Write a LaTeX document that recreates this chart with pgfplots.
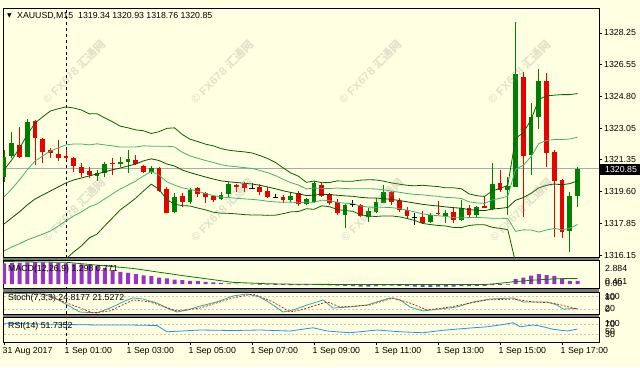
\documentclass[border=0pt]{standalone}
\usepackage{pgfplots}
\pgfplotsset{compat=1.18}
\usepackage{pgfplotstable}
\usepackage{fontspec}
\setmainfont{Liberation Sans}
\newfontfamily\symfont{DejaVu Sans}
\newfontfamily\cjk{Noto Sans CJK SC}
\definecolor{bg}{RGB}{255,255,226}
\definecolor{cgreen}{RGB}{0,128,0}
\definecolor{cred}{RGB}{235,0,0}
\definecolor{bbdark}{RGB}{0,100,0}
\definecolor{bblight}{RGB}{60,179,113}
\definecolor{macdp}{RGB}{153,50,204}
\definecolor{stochm}{RGB}{32,178,170}
\definecolor{rsib}{RGB}{30,144,255}
\definecolor{lvl}{RGB}{205,195,175}
\definecolor{sepc}{RGB}{120,120,120}
\definecolor{pline}{RGB}{170,170,170}
\definecolor{wm}{RGB}{150,150,140}
\newcommand\mtf{\fontsize{8.8}{10}\selectfont}
\newcommand\wmark[2]{\node[rotate=45, text=wm, opacity=0.28, inner sep=0pt] at (#1,#2) {\fontsize{11.5}{12}\selectfont\bfseries \textcopyright\ FX678 {\cjk 汇通网}};}

% i O H L C
\pgfplotstableread{
i O H L C
-8 1320.40 1321.88 1320.13 1321.49
-7 1321.55 1322.86 1321.44 1322.26
-5 1321.49 1323.56 1321.49 1323.40
4 1320.46 1320.78 1320.19 1320.62
5 1320.62 1321.22 1320.40 1321.11
7 1321.11 1321.49 1320.95 1321.22
8 1321.22 1321.88 1320.62 1321.38
11 1320.68 1321.00 1320.57 1320.89
14 1318.50 1319.53 1318.44 1319.31
16 1319.04 1319.80 1318.93 1319.69
20 1319.20 1319.59 1319.15 1319.42
21 1319.48 1320.13 1319.31 1320.02
29 1319.15 1319.53 1319.04 1319.37
31 1318.93 1319.26 1318.88 1319.20
32 1319.04 1320.19 1318.99 1320.08
36 1318.33 1318.93 1317.62 1318.88
39 1318.22 1318.71 1317.95 1318.55
40 1318.50 1319.26 1318.44 1319.04
41 1318.99 1319.97 1318.99 1319.59
47 1317.95 1318.44 1317.90 1318.33
49 1318.28 1318.60 1317.90 1318.44
51 1318.06 1319.15 1318.01 1318.71
53 1318.33 1318.82 1318.22 1318.77
55 1318.66 1321.17 1318.60 1320.02
57 1319.69 1320.40 1318.33 1319.91
58 1319.86 1328.85 1319.86 1326.02
60 1321.60 1324.44 1320.51 1323.67
61 1323.67 1326.29 1323.02 1325.64
65 1317.46 1319.59 1316.32 1319.37
66 1319.34 1320.93 1318.76 1320.85
}\greentab

\pgfplotstableread{
i O H L C
-6 1322.15 1323.13 1321.44 1321.49
-4 1323.46 1323.51 1321.06 1322.53
-3 1322.47 1322.53 1321.17 1321.77
-2 1321.88 1321.98 1321.44 1321.71
-1 1321.66 1322.42 1321.28 1321.44
0 1321.55 1321.88 1321.33 1321.44
1 1321.44 1321.49 1320.68 1321.00
2 1320.95 1321.17 1320.40 1320.62
3 1320.73 1320.95 1320.35 1320.51
6 1321.17 1321.44 1320.51 1321.11
9 1321.33 1321.60 1321.06 1321.11
10 1321.00 1321.06 1320.62 1320.68
12 1320.89 1320.95 1319.59 1319.64
13 1319.75 1319.86 1318.44 1318.44
15 1319.37 1319.53 1318.77 1319.04
17 1319.80 1319.86 1319.31 1319.48
18 1319.53 1319.59 1318.99 1319.31
19 1319.37 1319.42 1319.04 1319.15
22 1319.97 1320.02 1319.59 1319.86
23 1320.02 1320.13 1319.59 1319.80
25 1319.86 1320.02 1319.42 1319.59
26 1319.64 1319.86 1319.26 1319.31
28 1319.31 1319.42 1318.99 1319.15
30 1319.53 1319.64 1318.82 1318.93
33 1319.97 1320.08 1319.31 1319.37
34 1319.48 1319.53 1318.88 1318.99
35 1319.04 1319.20 1318.33 1318.44
38 1318.88 1318.93 1318.22 1318.28
42 1319.59 1319.64 1318.88 1319.04
43 1319.10 1319.26 1318.50 1318.60
44 1318.60 1318.77 1318.17 1318.28
46 1318.22 1318.55 1317.85 1317.90
48 1318.44 1319.10 1318.33 1318.39
50 1318.50 1318.77 1317.90 1318.06
52 1318.71 1318.88 1318.22 1318.33
54 1318.82 1319.31 1318.71 1318.71
56 1320.08 1320.78 1319.59 1319.69
59 1325.85 1326.13 1318.22 1321.55
62 1325.64 1326.07 1320.95 1321.71
63 1321.77 1321.88 1317.13 1320.19
64 1320.24 1320.29 1317.08 1317.41
}\redtab

\pgfplotstableread{
i O H L C
24 1319.80 1320.08 1319.75 1319.80
27 1319.31 1319.48 1319.26 1319.31
37 1318.93 1319.15 1318.77 1318.93
45 1318.17 1318.44 1317.79 1318.17
}\dojitab

% Bollinger bands: i upper2 upper1 middle lower1 lower2
\pgfplotstableread{
i u2 u1 m l1 l2
-8 1320.78 1319.31 1317.84 1316.37 1314.90
-7 1321.33 1319.75 1318.17 1316.59 1315.01
-6 1321.98 1320.24 1318.50 1316.76 1315.02
-5 1322.70 1320.79 1318.88 1316.97 1315.06
-4 1323.34 1321.27 1319.20 1317.13 1315.06
-3 1323.68 1321.55 1319.42 1317.29 1315.16
-2 1324.00 1321.82 1319.64 1317.46 1315.28
-1 1324.12 1321.99 1319.86 1317.73 1315.60
0 1324.22 1322.15 1320.08 1318.01 1315.94
1 1324.16 1322.20 1320.24 1318.28 1316.32
2 1324.05 1322.20 1320.35 1318.50 1316.65
3 1323.84 1322.15 1320.46 1318.77 1317.08
4 1323.85 1322.21 1320.57 1318.93 1317.29
5 1323.62 1322.15 1320.68 1319.21 1317.74
6 1323.41 1322.10 1320.79 1319.48 1318.17
7 1323.17 1322.03 1320.89 1319.75 1318.61
8 1323.08 1322.04 1321.00 1319.96 1318.92
9 1322.97 1322.04 1321.11 1320.18 1319.25
10 1322.92 1322.10 1321.28 1320.46 1319.64
11 1322.77 1322.08 1321.39 1320.70 1320.01
12 1322.87 1322.08 1321.30 1320.51 1319.72
13 1323.05 1322.08 1321.11 1320.14 1319.17
14 1323.08 1322.04 1321.00 1319.96 1318.92
15 1322.72 1321.75 1320.78 1319.81 1318.84
16 1322.46 1321.55 1320.64 1319.73 1318.82
17 1322.33 1321.42 1320.52 1319.62 1318.71
18 1322.19 1321.30 1320.40 1319.50 1318.61
19 1322.10 1321.19 1320.29 1319.39 1318.48
20 1321.95 1321.07 1320.19 1319.31 1318.43
21 1321.86 1321.00 1320.14 1319.28 1318.42
22 1321.81 1320.96 1320.10 1319.24 1318.39
23 1321.77 1320.91 1320.06 1319.21 1318.35
24 1321.71 1320.87 1320.02 1319.18 1318.33
25 1321.57 1320.76 1319.95 1319.14 1318.33
26 1321.41 1320.64 1319.86 1319.08 1318.31
27 1321.20 1320.48 1319.76 1319.04 1318.32
28 1320.90 1320.28 1319.65 1319.02 1318.40
29 1320.62 1320.09 1319.56 1319.03 1318.50
30 1320.44 1319.96 1319.48 1319.00 1318.52
31 1320.11 1319.75 1319.39 1319.03 1318.67
32 1320.18 1319.80 1319.41 1319.02 1318.64
33 1320.09 1319.78 1319.46 1319.14 1318.83
34 1320.10 1319.77 1319.44 1319.11 1318.78
35 1320.19 1319.80 1319.41 1319.02 1318.63
36 1320.17 1319.77 1319.37 1318.97 1318.57
37 1320.17 1319.76 1319.35 1318.94 1318.53
38 1320.23 1319.76 1319.29 1318.82 1318.35
39 1320.25 1319.76 1319.26 1318.76 1318.27
40 1320.24 1319.75 1319.25 1318.75 1318.25
41 1320.17 1319.70 1319.22 1318.75 1318.28
42 1320.08 1319.63 1319.18 1318.73 1318.28
43 1320.01 1319.57 1319.12 1318.68 1318.23
44 1319.95 1319.50 1319.05 1318.59 1318.14
45 1319.92 1319.45 1318.98 1318.50 1318.03
46 1319.95 1319.43 1318.91 1318.39 1317.87
47 1319.91 1319.38 1318.86 1318.33 1317.81
48 1319.88 1319.35 1318.82 1318.29 1317.76
49 1319.81 1319.29 1318.77 1318.25 1317.73
50 1319.81 1319.27 1318.73 1318.19 1317.65
51 1319.76 1319.23 1318.70 1318.17 1317.64
52 1319.48 1319.05 1318.62 1318.19 1317.76
53 1319.38 1318.99 1318.59 1318.19 1317.80
54 1319.34 1318.96 1318.57 1318.18 1317.80
55 1319.64 1319.15 1318.65 1318.15 1317.66
56 1319.78 1319.24 1318.69 1318.15 1317.60
57 1319.95 1319.35 1318.74 1318.14 1317.53
58 1322.51 1320.82 1319.13 1317.44 1315.75
59 1322.81 1321.04 1319.28 1317.52 1315.75
60 1323.52 1321.51 1319.51 1317.51 1315.50
61 1324.63 1322.22 1319.81 1317.40 1314.99
62 1324.82 1322.39 1319.95 1317.51 1315.08
63 1324.86 1322.44 1320.02 1317.60 1315.18
64 1324.89 1322.44 1319.98 1317.52 1315.07
65 1324.89 1322.47 1320.04 1317.61 1315.19
66 1324.95 1322.57 1320.19 1317.81 1315.43
}\bbtab

\pgfplotstableread{
i h
-8 3.70
-7 3.75
-6 3.80
-5 3.90
-4 3.95
-3 3.90
-2 3.85
-1 3.80
0 3.72
1 3.65
2 3.55
3 3.40
4 3.20
5 2.90
6 2.50
7 2.20
8 2.00
9 1.80
10 1.55
11 1.40
12 1.15
13 1.00
14 0.80
15 0.70
16 0.55
17 0.50
18 0.40
19 0.30
20 0.20
21 0.10
22 0.05
23 0.02
24 -0.05
25 -0.10
26 -0.12
27 -0.15
28 -0.15
29 -0.18
30 -0.20
31 -0.20
32 -0.15
33 -0.20
34 -0.25
35 -0.30
36 -0.35
37 -0.40
38 -0.45
39 -0.45
40 -0.40
41 -0.30
42 -0.30
43 -0.35
44 -0.40
45 -0.45
46 -0.50
47 -0.50
48 -0.45
49 -0.45
50 -0.45
51 -0.40
52 -0.40
53 -0.35
54 -0.35
55 -0.20
56 -0.15
57 -0.10
58 0.90
59 1.15
60 1.50
61 1.80
62 1.60
63 1.45
64 1.00
65 0.55
66 0.55
}\macdtab

\pgfplotstableread{
i s
-8 4.05
0.13 3.90
8.65 2.80
15.1 1.50
21.55 0.30
25.9 0.05
30 -0.05
40 -0.10
54 -0.10
55.4 0.05
57.7 0.40
60.3 0.70
63.4 0.95
66 1.00
}\sigtab

\pgfplotstableread{
i k
-8 95
-2.3 90
1.8 9
4.0 5
5.7 27
7.9 64
8.65 73
9.94 68
11.74 50
13.03 27
14.32 9
15.61 18
17.29 36
19.48 55
21.55 82
23.35 91
25.03 77
26.71 41
28.0 9
29.29 18
31.10 41
32.39 55
33.16 64
34.45 27
36.65 32
38.84 41
40.13 55
41.81 73
43.10 64
44.39 32
46.06 14
48.26 23
50.45 32
52.52 55
54.71 68
57.68 73
58.97 55
62.06 55
63.35 41
64.13 23
66 25
}\stochk

\pgfplotstableread{
i d
-8 95
-3.35 95
0.13 50
3.48 5
5.68 14
8.65 64
10.84 55
14.32 14
17.29 27
21.55 73
24.13 91
26.71 55
28.9 9
30.19 18
33.68 55
35.35 32
39.23 41
42.19 73
44.39 50
46.58 18
49.55 32
54.32 64
57.68 68
60.26 55
62.84 50
66 22
}\stochd

\pgfplotstableread{
i r
-8 75
0.13 70
4.39 68
8.26 68
11.74 66
13.03 41
17.29 48
21.55 46
25.03 48
28.9 44
31.87 57
33.68 44
36.65 37
40.13 48
43.10 41
46.06 37
48.65 47
51.74 55
54.32 61
56.0 68
57.68 77
58.58 61
60.26 68
61.16 64
62.84 51
64.65 44
66 52
}\rsitab

\pgfplotsset{
  panel/.style={scale only axis, width=596bp, xmin=-8.13, xmax=68.77,
    axis line style={black, line width=0.7bp}, xtick=\empty, ytick=\empty,
    clip=true, axis background/.style={fill=bg}},
  wick/.style={draw=none, mark=none, forget plot,
    error bars/.cd, y dir=plus, y explicit, error mark=none,
    error bar style={draw=#1, solid, line width=0.9bp}},
  body/.style={draw=none, mark=none, forget plot,
    error bars/.cd, y dir=plus, y explicit, error mark=none,
    error bar style={draw=#1, solid, line width=4.8bp}},
}

\begin{document}
\begin{tikzpicture}[x=1bp,y=1bp]
\fill[bg] (0,0) rectangle (640,-367);
% separators
\fill[sepc] (3,-257) rectangle (599,-260);
\fill[sepc] (3,-288) rectangle (599,-292);
\fill[sepc] (3,-314) rectangle (599,-317);

% ---------------- main price panel
\begin{axis}[panel, at={(3bp,-8bp)}, anchor=north west, height=249bp,
  ymin=1316.04, ymax=1329.61,
  ytick={1316.15,1317.85,1319.60,1321.35,1323.05,1324.80,1326.55,1328.25},
  yticklabels={1316.15,1317.85,1319.60,1321.35,1323.05,1324.80,1326.55,1328.25},
  ytick pos=right, yticklabel pos=right, tick align=outside, major tick length=3bp,
  tick style={black, line width=0.6bp},
  yticklabel style={font=\mtf, anchor=west, inner sep=0pt, xshift=2bp}]
\addplot[pline, line width=0.6bp, forget plot] coordinates {(-9,1320.85) (70,1320.85)};
\addplot[black, dashed, line width=0.7bp, forget plot] coordinates {(0,1316) (0,1330)};
% candles
\addplot[wick=cgreen] table[x=i, y=L, y error expr=\thisrow{H}-\thisrow{L}] {\greentab};
\addplot[body=cgreen] table[x=i, y=O, y error expr=\thisrow{C}-\thisrow{O}] {\greentab};
\addplot[wick=cred] table[x=i, y=L, y error expr=\thisrow{H}-\thisrow{L}] {\redtab};
\addplot[body=cred] table[x=i, y=C, y error expr=\thisrow{O}-\thisrow{C}] {\redtab};
\addplot[wick=black] table[x=i, y=L, y error expr=\thisrow{H}-\thisrow{L}] {\dojitab};
\addplot[only marks, mark=-, mark size=2.6bp, black, mark options={line width=0.9bp}] table[x=i, y=O] {\dojitab};
% bollinger
\addplot[bbdark, line width=0.8bp] table[x=i, y=u2] {\bbtab};
\addplot[bblight, line width=0.8bp] table[x=i, y=u1] {\bbtab};
\addplot[bbdark!80!black, line width=0.8bp] table[x=i, y=m] {\bbtab};
\addplot[bblight, line width=0.8bp] table[x=i, y=l1] {\bbtab};
\addplot[bbdark, line width=0.8bp] table[x=i, y=l2] {\bbtab};
\end{axis}

% ---------------- MACD
\begin{axis}[panel, at={(3bp,-260bp)}, anchor=north west, height=28bp,
  ymin=-0.72, ymax=4.32]
\addplot[black, dashed, line width=0.7bp, forget plot] coordinates {(0,-1) (0,5)};
\addplot[ybar, bar width=4bp, fill=macdp, draw=none] table[x=i, y=h] {\macdtab};
\addplot[cgreen, line width=0.8bp] table[x=i, y=s] {\sigtab};
\end{axis}

% ---------------- Stochastic
\begin{axis}[panel, at={(3bp,-292bp)}, anchor=north west, height=22bp,
  ymin=0, ymax=100]
\addplot[lvl, dash pattern=on 2bp off 2bp, line width=0.6bp] coordinates {(-9,80) (70,80)};
\addplot[lvl, dash pattern=on 2bp off 2bp, line width=0.6bp] coordinates {(-9,20) (70,20)};
\addplot[black, dashed, line width=0.7bp, forget plot] coordinates {(0,-1) (0,101)};
\addplot[stochm, line width=0.8bp] table[x=i, y=k] {\stochk};
\addplot[cred, dash pattern=on 2bp off 1.5bp, line width=0.7bp] table[x=i, y=d] {\stochd};
\end{axis}

% ---------------- RSI
\begin{axis}[panel, at={(3bp,-317bp)}, anchor=north west, height=25bp,
  ymin=0, ymax=100,
  xtick={-8,0,8,16,24,32,40,48,56,64},
  xticklabels={31 Aug 2017,1 Sep 01:00,1 Sep 03:00,1 Sep 05:00,1 Sep 07:00,1 Sep 09:00,1 Sep 11:00,1 Sep 13:00,1 Sep 15:00,1 Sep 17:00},
  xtick pos=bottom, tick align=outside, major tick length=3bp,
  tick style={black, line width=0.6bp},
  xticklabel style={font=\mtf, anchor=north west, inner sep=0pt, xshift=-1.5bp, yshift=-2bp}]
\addplot[lvl, dash pattern=on 2bp off 2bp, line width=0.6bp] coordinates {(-9,70) (70,70)};
\addplot[lvl, dash pattern=on 2bp off 2bp, line width=0.6bp] coordinates {(-9,30) (70,30)};
\addplot[black, dashed, line width=0.7bp, forget plot] coordinates {(0,-1) (0,101)};
\addplot[rsib, line width=0.8bp] table[x=i, y=r] {\rsitab};
\end{axis}

% texts
\node[anchor=west, inner sep=0pt] at (7,-16) {\fontsize{6}{6}\symfont ▼};
\node[anchor=west, inner sep=0pt] at (17,-16) {\mtf XAUUSD,M15\hspace{5bp}1319.34 1320.93 1318.76 1320.85};
\node[anchor=west, inner sep=0pt] at (8,-269) {\mtf MACD(12,26,9) 1.298 0.771};
\node[anchor=west, inner sep=0pt] at (8,-298) {\mtf Stoch(7,3,3) 24.8177 21.5272};
\node[anchor=west, inner sep=0pt] at (8,-326) {\mtf RSI(14) 51.7352};
% right labels of sub panels
\node[anchor=west, inner sep=0pt] at (605,-268) {\mtf 2.884};
\node[anchor=west, inner sep=0pt] at (605,-281) {\mtf 0.461};
\node[anchor=west, inner sep=0pt] at (605,-283.5) {\mtf 0.00};
\node[anchor=west, inner sep=0pt] at (605,-296.5) {\mtf 100};
\node[anchor=west, inner sep=0pt] at (605,-297.5) {\mtf 80};
\node[anchor=west, inner sep=0pt] at (605,-308.5) {\mtf 20};
\node[anchor=west, inner sep=0pt] at (605,-309.5) {\mtf 0};
\node[anchor=west, inner sep=0pt] at (605,-323) {\mtf 100};
\node[anchor=west, inner sep=0pt] at (605,-324.5) {\mtf 70};
\node[anchor=west, inner sep=0pt] at (605,-331) {\mtf 50};
\node[anchor=west, inner sep=0pt] at (605,-334) {\mtf 30};
% current price box
\fill[black] (600,-163.5) rectangle (640,-174.5);
\node[anchor=west, inner sep=0pt, text=white] at (605,-169) {\mtf 1320.85};

% watermarks
\wmark{74}{-72}
\wmark{222}{-72}
\wmark{370}{-72}
\wmark{519}{-72}
\wmark{74}{-210}
\wmark{222}{-210}
\wmark{372}{-210}
\wmark{521}{-210}

\pgfresetboundingbox
\path[use as bounding box] (0,0) rectangle (640,-367);
\end{tikzpicture}
\end{document}
